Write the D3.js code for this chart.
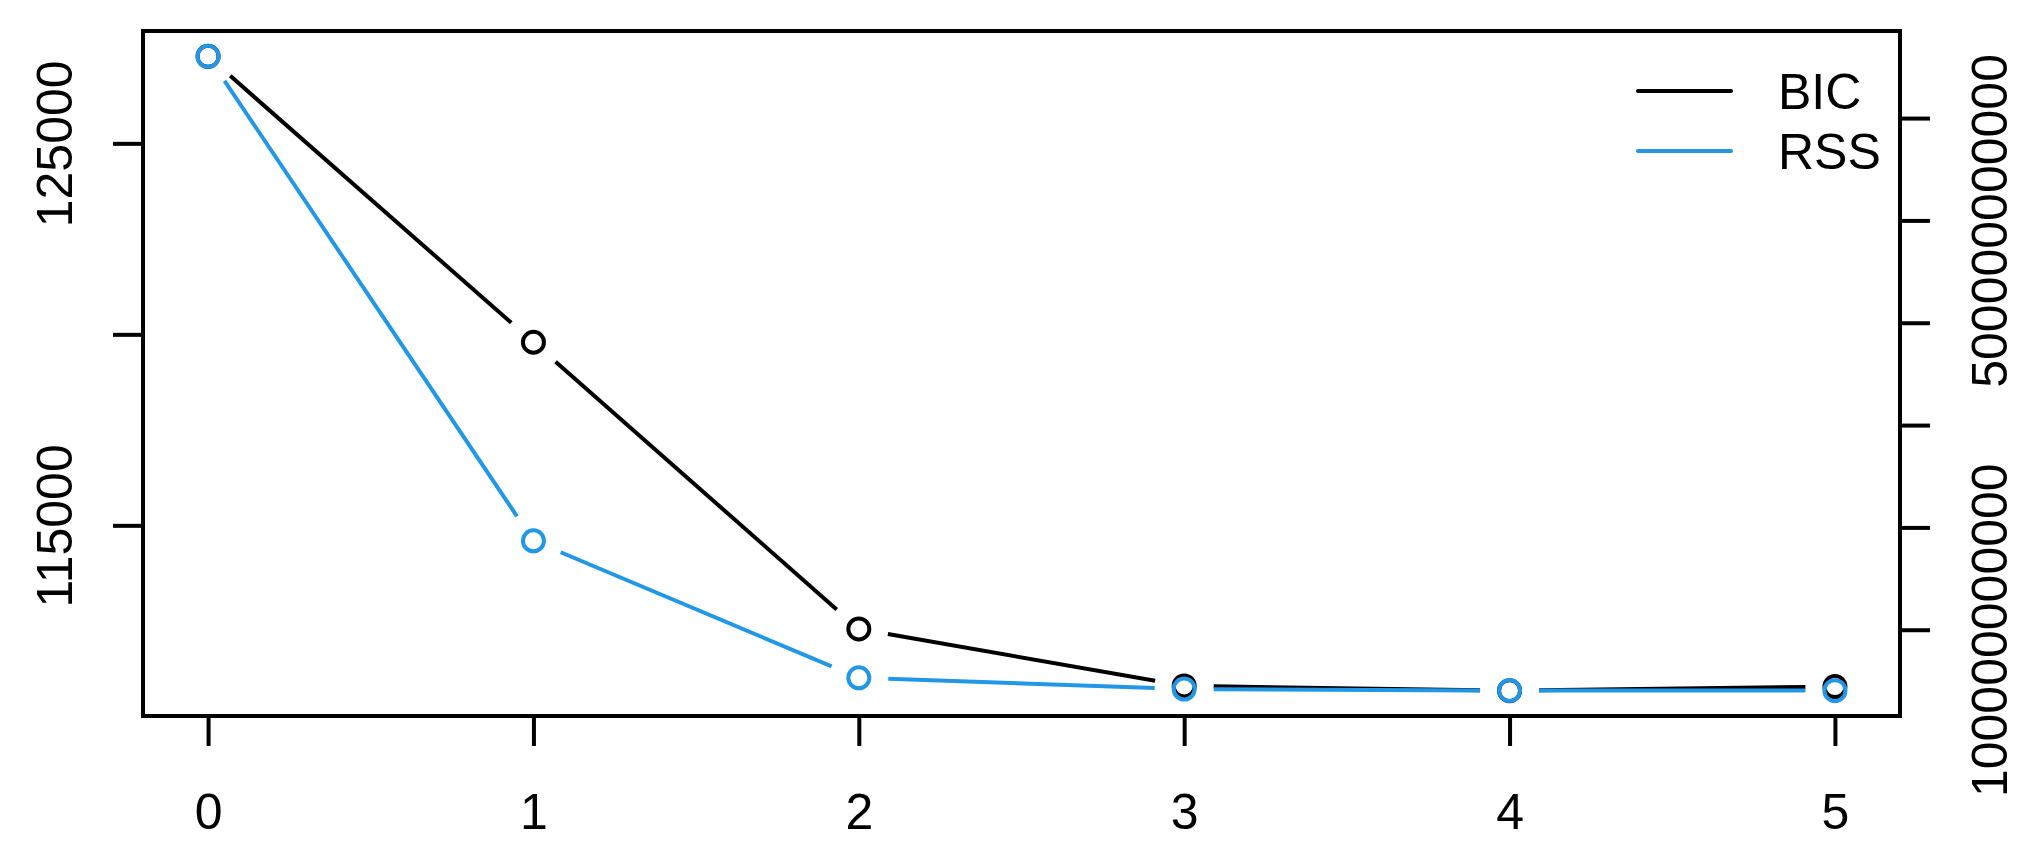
<!DOCTYPE html>
<html lang="en"><head><meta charset="UTF-8">
<title>BIC and RSS</title>
<script src="https://cdn.jsdelivr.net/npm/d3@7"></script>
<style>
  body { margin:0; background:#fff; }
  svg text { font-family:"Liberation Sans", Arial, Helvetica, sans-serif; font-size:50px; fill:#000; }
</style>
</head>
<body>
<div id="svg_div"></div>
<script>

// number of predictors
const steps = [0, 1, 2, 3, 4, 5];
// BIC (left axis)
const bic = [127277, 119793, 112288, 110796, 110673, 110778];
// RSS (right axis)
const rss = [6.603e11, 1.869e11, 0.530e11, 0.420e11, 0.406e11, 0.405e11];

const bicTicks = [115000, 120000, 125000];
const rssTicks = [1e11, 2e11, 3e11, 4e11, 5e11, 6e11];
const legendNames = ["BIC", "RSS"];
const legendColors = ["#000000", "#2297E6"];

const W = 2042, H = 849;
const box = {left:143, right:1900, top:31, bottom:716};
const GAP = 29.5;   // type="b" gap around points
const LW = 4;

// R style 4% padding of the range
function pad(ext){
    const r = ext[1] - ext[0];
    return [ext[0] - 0.04*r, ext[1] + 0.04*r];
}

const x = d3.scaleLinear().domain(pad(d3.extent(steps))).range([box.left, box.right]);
const yL = d3.scaleLinear().domain(pad(d3.extent(bic))).range([box.bottom, box.top]);
const yR = d3.scaleLinear().domain(pad(d3.extent(rss))).range([box.bottom, box.top]);

const svg = d3.select("#svg_div").append("svg")
    .attr("width", W).attr("height", H);

// x axis
const gx = svg.append("g")
    .attr("transform", "translate(0," + box.bottom + ")")
    .call(d3.axisBottom(x).tickValues(steps).tickFormat(d3.format("d"))
        .tickSize(30).tickSizeOuter(0).tickPadding(47));
gx.selectAll("text").attr("dy", "0.71em");

// left axis
const gl = svg.append("g")
    .attr("transform", "translate(" + box.left + ",0)")
    .call(d3.axisLeft(yL).tickValues(bicTicks).tickFormat(d3.format("d")).tickSize(30).tickSizeOuter(0));
gl.selectAll("text")
    .attr("x", null).attr("dy", null).attr("text-anchor", "middle")
    .attr("transform", "translate(-71,0) rotate(-90)");

// right axis
const gr = svg.append("g")
    .attr("transform", "translate(" + box.right + ",0)")
    .call(d3.axisRight(yR).tickValues(rssTicks).tickFormat(d3.format("d")).tickSize(30).tickSizeOuter(0));
gr.selectAll("text")
    .attr("x", null).attr("dy", null).attr("text-anchor", "middle")
    .attr("transform", "translate(107,0) rotate(-90)");

[gx, gl, gr].forEach(function(g){
    g.select(".domain").remove();
    g.selectAll("line").attr("stroke", "#000").attr("stroke-width", LW);
});

// drop labels that would overlap, like R does (gap of one "m")
function dropOverlap(g, scale){
    const mW = 0.833 * 50;
    let last = null;
    g.selectAll(".tick").each(function(d){
        const t = d3.select(this).select("text");
        const len = t.node().getComputedTextLength();
        const p = scale(d);
        const lo = p - len/2, hi = p + len/2;
        if (last && lo < last[1] + mW && hi > last[0] - mW) {
            t.remove();
        } else {
            last = [lo, hi];
        }
    });
}
dropOverlap(gl, yL);
dropOverlap(gr, yR);

// plot box
svg.append("rect")
    .attr("x", box.left).attr("y", box.top)
    .attr("width", box.right - box.left).attr("height", box.bottom - box.top)
    .attr("fill", "none").attr("stroke", "#000").attr("stroke-width", LW);

// lines with gaps + open circles
function drawSeries(vals, y, color){
    const pts = steps.map(function(s, i){ return [x(s), y(vals[i])]; });
    const segs = [];
    for (let i = 0; i < pts.length - 1; i++) {
        const a = pts[i], b = pts[i+1];
        const dx = b[0]-a[0], dy = b[1]-a[1];
        const len = Math.sqrt(dx*dx + dy*dy);
        if (len <= 2*GAP) continue;
        const ux = dx/len, uy = dy/len;
        segs.push([a[0]+ux*GAP, a[1]+uy*GAP, b[0]-ux*GAP, b[1]-uy*GAP]);
    }
    const g = svg.append("g");
    g.selectAll("line").data(segs).enter().append("line")
        .attr("x1", d => d[0]).attr("y1", d => d[1])
        .attr("x2", d => d[2]).attr("y2", d => d[3])
        .attr("stroke", color).attr("stroke-width", LW);
    g.selectAll("circle").data(pts).enter().append("circle")
        .attr("cx", d => d[0]).attr("cy", d => d[1]).attr("r", 10.5)
        .attr("fill", "none").attr("stroke", color).attr("stroke-width", LW);
}
drawSeries(bic, yL, legendColors[0]);
drawSeries(rss, yR, legendColors[1]);

// legend
const lg = svg.append("g");
legendNames.forEach(function(name, i){
    const ly = 91 + i*60;
    lg.append("line")
        .attr("x1", 1638).attr("x2", 1731).attr("y1", ly).attr("y2", ly)
        .attr("stroke", legendColors[i]).attr("stroke-width", LW)
        .attr("stroke-linecap", "round");
    lg.append("text")
        .attr("x", 1778).attr("y", ly + 18)
        .text(name);
});

</script>
</body></html>
